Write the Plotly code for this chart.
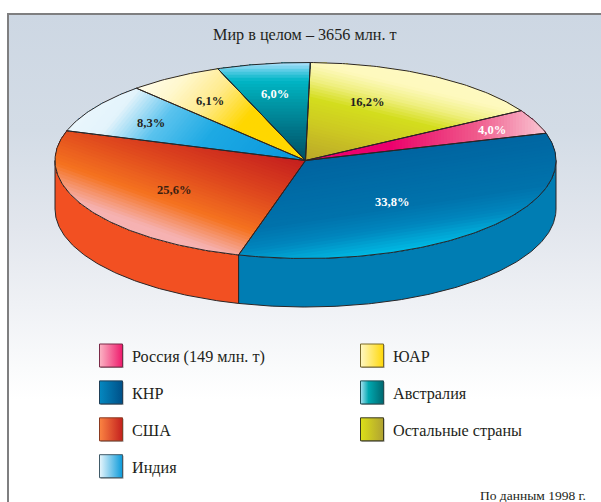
import math
import plotly.graph_objects as go

# ---- data ----
categories = ["Остальные страны", "Россия (149 млн. т)", "КНР", "США", "Индия", "ЮАР", "Австралия"]
shares = [16.2, 4.0, 33.8, 25.6, 8.3, 6.1, 6.0]
share_labels = ["16,2%", "4,0%", "33,8%", "25,6%", "8,3%", "6,1%", "6,0%"]
title_text = "Мир в целом – 3656 млн. т"
source_text = "По данным 1998 г."
legend_left = ["Россия (149 млн. т)", "КНР", "США", "Индия"]
legend_right = ["ЮАР", "Австралия", "Остальные страны"]

# ---- styling / geometry ----
W, H = 601, 502
CX, CY, RX, RY, DEPTH = 305.5, 160.5, 250.5, 98.0, 48.5
START = 1.1
EDGE = "#2a2526"
TEXT = "#231f20"
FONT = "Liberation Serif"

# direction of shading, and colour stops as (distance from pie centre, rgb)
shade = {
    "Остальные страны": ((0.23, -0.97), [(0, (186, 166, 42)), (35, (205, 200, 35)), (62, (212, 222, 30)), (80, (240, 240, 130)), (96, (254, 249, 190)), (120, (255, 250, 195))]),
    "Россия (149 млн. т)": ((1, 0), [(85, (236, 0, 110)), (110, (236, 30, 115)), (170, (240, 90, 140)), (240, (250, 200, 212))]),
    "КНР": ((0.15, 1), [(0, (0, 100, 160)), (60, (0, 115, 172)), (80, (0, 135, 190)), (102, (0, 184, 226)), (125, (0, 184, 226))]),
    "США": ((-0.33, 0.94), [(0, (196, 30, 30)), (45, (222, 70, 30)), (85, (245, 115, 32)), (115, (246, 178, 178)), (150, (248, 185, 185))]),
    "Индия": ((-0.77, -0.63), [(0, (8, 150, 220)), (90, (30, 170, 228)), (135, (90, 195, 238)), (175, (228, 244, 252)), (230, (240, 249, 254))]),
    "ЮАР": ((-0.75, -0.66), [(0, (255, 215, 0)), (72, (255, 215, 0)), (110, (255, 235, 140)), (145, (255, 248, 205)), (175, (255, 253, 235))]),
    "Австралия": ((0, -1), [(0, (0, 80, 100)), (30, (0, 115, 135)), (62, (0, 158, 172)), (80, (0, 182, 198)), (90, (90, 205, 230)), (98, (178, 226, 252))]),
}
side_colors = {"КНР": "#007db3", "США": "#f25022"}
label_pos = [(367, 102), (491.5, 129.5), (392, 202), (174, 190), (151, 122.5), (209.5, 101), (274.5, 94)]
label_colors = [TEXT, "white", "white", "#3a2010", TEXT, TEXT, "white"]
swatch_grad = {
    "Россия (149 млн. т)": ([[0, "#fbb4c4"], [1, "#ee1a6c"]], "#7a2a48"),
    "КНР": ([[0, "#0488c0"], [1, "#005088"]], "#1f3f58"),
    "США": ([[0, "#fb8442"], [1, "#c4201e"]], "#8a3a20"),
    "Индия": ([[0, "#e8f6fc"], [1, "#0a9ada"]], "#405a68"),
    "ЮАР": ([[0, "#fff8c4"], [1, "#ffd80a"]], "#7a6a2a"),
    "Австралия": ([[0, "#a8e2f2"], [0.35, "#00a8b0"], [1, "#006870"]], "#1f4f55"),
    "Остальные страны": ([[0, "#dde018"], [1, "#b0a232"]], "#3a3a20"),
}


def pt(theta_deg, drop=0.0):
    a = math.radians(theta_deg)
    return CX + RX * math.sin(a), CY - RY * math.cos(a) + drop


def arc(a0, a1, drop=0.0):
    n = max(2, int(abs(a1 - a0) * 1.5))
    return [pt(a0 + (a1 - a0) * i / n, drop) for i in range(n + 1)]


def clip(poly, d, t):
    """Part of a polygon with d.(p-centre) >= t."""
    out = []
    f = lambda p: d[0] * (p[0] - CX) + d[1] * (p[1] - CY) - t
    for i, p in enumerate(poly):
        q = poly[(i + 1) % len(poly)]
        fp, fq = f(p), f(q)
        if fp >= 0:
            out.append(p)
        if fp * fq < 0:
            s = fp / (fp - fq)
            out.append((p[0] + s * (q[0] - p[0]), p[1] + s * (q[1] - p[1])))
    return out


def lerp_stops(stops, t):
    if t <= stops[0][0]:
        return stops[0][1]
    for (t0, c0), (t1, c1) in zip(stops, stops[1:]):
        if t <= t1:
            s = (t - t0) / (t1 - t0)
            return tuple(c0[k] + s * (c1[k] - c0[k]) for k in range(3))
    return stops[-1][1]


fig = go.Figure()


def add(pts, **kw):
    kw.setdefault("mode", "lines")
    kw.setdefault("line", dict(width=0))
    closed = kw.pop("closed", True)
    xs = [p[0] for p in pts] + ([pts[0][0]] if closed else [])
    ys = [p[1] for p in pts] + ([pts[0][1]] if closed else [])
    fig.add_trace(go.Scatter(x=xs, y=ys, showlegend=False, hoverinfo="skip", **kw))


# background panel
add([(8, 14), (W, 14), (W, H), (8, H)], fill="toself", fillcolor="rgba(0,0,0,0)",
    fillgradient=dict(type="vertical", start=14, stop=400,
                      colorscale=[[0, "#cdd7e3"], [0.3, "#d3dce6"], [0.55, "#e2e6ed"], [0.75, "#eff1f5"], [0.92, "#fafbfc"], [1, "#ffffff"]]))
add([(8, H), (8, 14), (W, 14)], closed=False, line=dict(width=2, color="#7f7f80"))

# cumulative slice angles
angles = [START]
for v in shares:
    angles.append(angles[-1] + v / sum(shares) * 360)

# side walls
for name, a0, a1 in zip(categories, angles, angles[1:]):
    if name in side_colors:
        lo, hi = max(a0, 90), min(a1, 270)
        poly = arc(lo, hi) + arc(hi, lo, DEPTH)
        add(poly, fill="toself", fillcolor=side_colors[name], line=dict(width=1, color=EDGE))

# top slices with banded shading
for name, a0, a1 in zip(categories, angles, angles[1:]):
    wedge = [(CX, CY)] + arc(a0, a1)
    d, stops = shade[name]
    n = (d[0] ** 2 + d[1] ** 2) ** 0.5
    d = (d[0] / n, d[1] / n)
    proj = [d[0] * (p[0] - CX) + d[1] * (p[1] - CY) for p in wedge]
    lo, hi = min(proj), max(proj)
    add(wedge, fill="toself", fillcolor="rgb(%d,%d,%d)" % lerp_stops(stops, lo))
    bands = max(8, int((hi - lo) / 3))
    for i in range(1, bands):
        t = lo + (hi - lo) * i / bands
        piece = clip(wedge, d, t)
        if len(piece) >= 3:
            add(piece, fill="toself", fillcolor="rgb(%d,%d,%d)" % lerp_stops(stops, t + (hi - lo) / bands / 2))

# slice outlines
for a0, a1 in zip(angles, angles[1:]):
    add([(CX, CY)] + arc(a0, a1), line=dict(width=1, color=EDGE))

# slice labels
for text, (x, y), col in zip(share_labels, label_pos, label_colors):
    fig.add_annotation(x=x, y=y, text="<b>%s</b>" % text, showarrow=False,
                       font=dict(family=FONT, size=12.5, color=col))

# legend
def legend_item(name, x0, y0):
    x1, y1 = x0 + 23, y0 + 23
    scale, border = swatch_grad[name]
    add([(x0 + 1, y0 + 1), (x1 + 1, y0 + 1), (x1 + 1, y1 + 1), (x0 + 1, y1 + 1)], fill="toself", fillcolor="#9a9a9a")
    add([(x0, y0), (x1, y0), (x1, y1), (x0, y1)], fill="toself", fillcolor="rgba(0,0,0,0)",
        line=dict(width=1, color=border),
        fillgradient=dict(type="horizontal", start=x0, stop=x1, colorscale=scale))
    fig.add_annotation(x=x0 + 30.5, y=y0 + 13, text=name, showarrow=False, xanchor="left",
                       font=dict(family=FONT, size=16.2, color=TEXT))


for i, name in enumerate(legend_left):
    legend_item(name, 99.5, 344 + i * 36.9)
for i, name in enumerate(legend_right):
    legend_item(name, 360.5, 344 + i * 36.9)

fig.add_annotation(x=305, y=34.5, text=title_text, showarrow=False,
                   font=dict(family=FONT, size=16.2, color=TEXT))
fig.add_annotation(x=588, y=495, text=source_text, showarrow=False, xanchor="right",
                   font=dict(family=FONT, size=13.5, color=TEXT))

fig.update_layout(
    width=W, height=H, margin=dict(l=0, r=0, t=0, b=0),
    paper_bgcolor="white", plot_bgcolor="rgba(0,0,0,0)", showlegend=False,
    xaxis=dict(range=[0, W], visible=False, fixedrange=True),
    yaxis=dict(range=[H, 0], visible=False, fixedrange=True),
)
fig.write_html("out.html", config={"displayModeBar": False},
               post_script="document.body.style.margin='0';document.body.style.overflow='hidden';")
